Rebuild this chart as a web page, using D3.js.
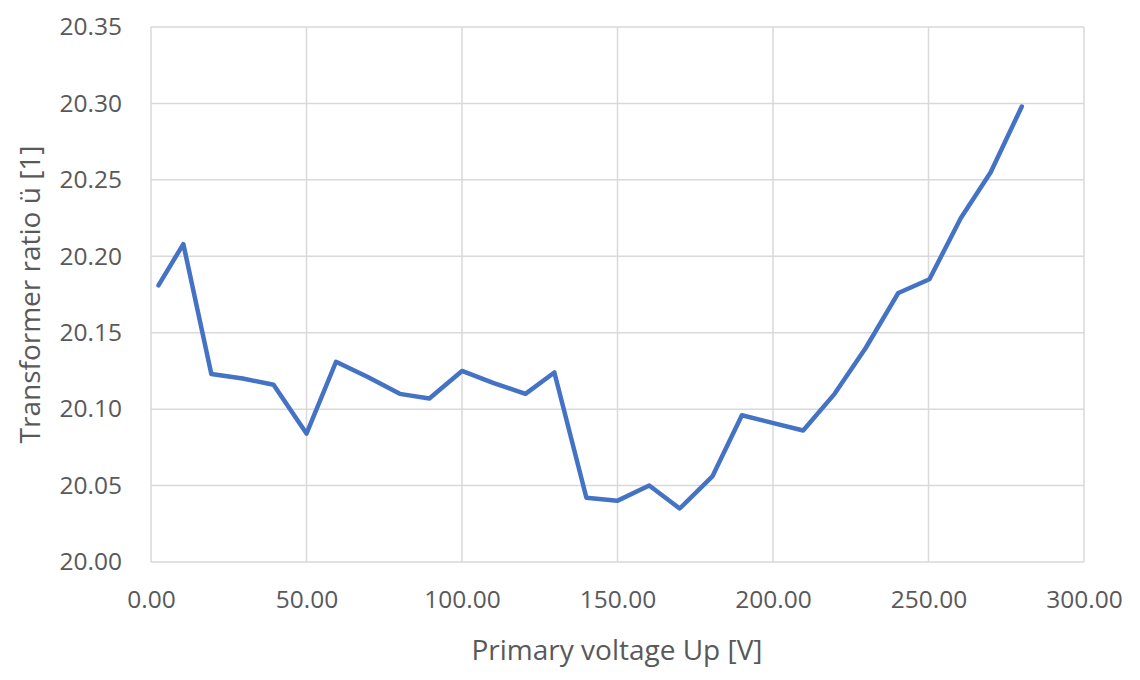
<!DOCTYPE html>
<html><head><meta charset="utf-8">
<script src="https://cdn.jsdelivr.net/npm/d3@7"></script>
<style>body{margin:0;background:#fff}svg{display:block}</style>
</head><body>
<svg id="c" width="1140" height="680"></svg>
<script>
const voltage = [2.4, 10.4, 19.4, 29.5, 39.4, 50.0, 59.5, 69.7, 80.0, 89.5, 100.0, 110.2, 120.4, 129.7, 140.0, 149.9, 160.2, 170.0, 180.5, 190.0, 199.8, 209.7, 219.8, 229.8, 240.3, 250.3, 260.4, 270.0, 280.0];
const ratio   = [20.181, 20.208, 20.123, 20.120, 20.116, 20.084, 20.131, 20.121, 20.110, 20.107, 20.125, 20.117, 20.110, 20.124, 20.042, 20.040, 20.050, 20.035, 20.056, 20.096, 20.091, 20.086, 20.110, 20.140, 20.176, 20.185, 20.225, 20.255, 20.298];
const xTicks = [0, 50, 100, 150, 200, 250, 300];
const yTicks = [20.00, 20.05, 20.10, 20.15, 20.20, 20.25, 20.30, 20.35];
const xTitle = "Primary voltage Up [V]";
const yTitle = "Transformer ratio ü [1]";

const svg = d3.select("#c");
const font = "'Open Sans', sans-serif";
const pL = 151, pR = 1084, pT = 27, pB = 562;
const x = d3.scaleLinear().domain([0, 300]).range([pL, pR]);
const y = d3.scaleLinear().domain([20.00, 20.35]).range([pB, pT]);

const grid = svg.append("g");
grid.selectAll("line.h").data(yTicks).join("line").attr("class", "h")
  .attr("x1", pL).attr("x2", pR)
  .attr("y1", d => y(d)).attr("y2", d => y(d))
  .attr("stroke", "#d9d9d9").attr("stroke-width", 1.5);
grid.selectAll("line.v").data(xTicks).join("line").attr("class", "v")
  .attr("y1", pT).attr("y2", pB)
  .attr("x1", d => x(d)).attr("x2", d => x(d))
  .attr("stroke", "#d9d9d9").attr("stroke-width", 1.5);

const xAxis = d3.axisBottom(x).tickValues(xTicks).tickFormat(d3.format(".2f")).tickSize(0).tickPadding(29);
const gx = svg.append("g").attr("transform", `translate(0,${pB})`).call(xAxis);
gx.select(".domain").remove();
gx.selectAll("text").attr("fill", "#595959").style("font-family", font).style("font-size", "24.5px");

const yAxis = d3.axisLeft(y).tickValues(yTicks).tickFormat(d3.format(".2f")).tickSize(0).tickPadding(29);
const gy = svg.append("g").attr("transform", `translate(${pL},0)`).call(yAxis);
gy.select(".domain").remove();
gy.selectAll("text").attr("fill", "#595959").style("font-family", font).style("font-size", "24.5px");

const line = d3.line().x((d, i) => x(voltage[i])).y(d => y(d));
svg.append("path").datum(ratio)
  .attr("d", line).attr("fill", "none")
  .attr("stroke", "#4472c4").attr("stroke-width", 4.5)
  .attr("stroke-linejoin", "round").attr("stroke-linecap", "round");

svg.append("text").attr("x", 617).attr("y", 660)
  .attr("text-anchor", "middle").attr("fill", "#595959")
  .style("font-family", font).style("font-size", "28px").text(xTitle);
svg.append("text").attr("transform", `translate(40,${(pT + pB) / 2}) rotate(-90)`)
  .attr("text-anchor", "middle").attr("fill", "#595959")
  .style("font-family", font).style("font-size", "28px").text(yTitle);
</script>
</body></html>
